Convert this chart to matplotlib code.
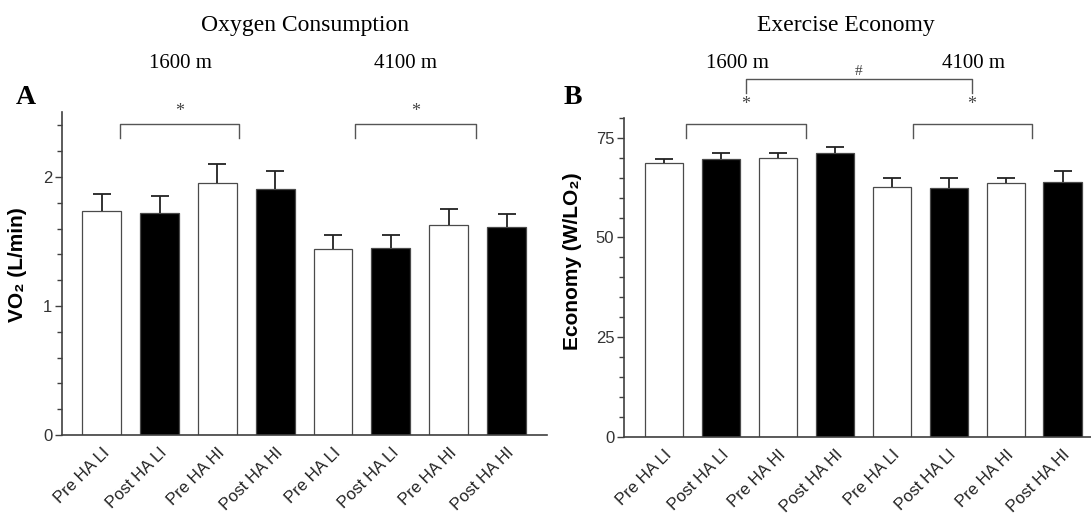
import numpy as np
import matplotlib
matplotlib.use("Agg")
import matplotlib.pyplot as plt
from matplotlib.ticker import MultipleLocator
from matplotlib.transforms import ScaledTranslation

plt.rcParams['font.family'] = ['Liberation Sans', 'DejaVu Sans']

# data
conditions = ['Pre HA LI', 'Post HA LI', 'Pre HA HI', 'Post HA HI',
              'Pre HA LI', 'Post HA LI', 'Pre HA HI', 'Post HA HI']
vo2 = [1.74, 1.72, 1.95, 1.91, 1.44, 1.45, 1.63, 1.61]
vo2_err = [0.13, 0.13, 0.15, 0.14, 0.11, 0.10, 0.12, 0.10]
econ = [68.6, 69.6, 69.9, 71.2, 62.6, 62.3, 63.6, 63.9]
econ_err = [1.0, 1.5, 1.2, 1.5, 2.4, 2.7, 1.4, 2.8]
fills = ['white', 'black'] * 4

serif = ['Liberation Serif', 'DejaVu Serif']
dark = '#404040'

fig = plt.figure(figsize=(10.91, 5.15), dpi=100)
axA = fig.add_axes([0.0568, 0.1553, 0.4446, 0.6263])
axB = fig.add_axes([0.5720, 0.1515, 0.4280, 0.6198])


def draw(ax, means, errs, ylim, xlim, major, minor, ylabel, label_xy):
    x = np.arange(len(means))
    ax.bar(x, means, width=0.67, color=fills, edgecolor='#4a4a4a',
           linewidth=0.9, zorder=2)
    eb = ax.errorbar(x, means, yerr=[np.zeros(len(errs)), errs], fmt='none',
                     ecolor='#222222', elinewidth=1.3, capsize=6.5,
                     capthick=1.3, zorder=3)
    eb[1][0].set_visible(False)
    ax.set_xlim(*xlim)
    ax.set_ylim(*ylim)
    ax.yaxis.set_major_locator(MultipleLocator(major))
    ax.yaxis.set_minor_locator(MultipleLocator(minor))
    ax.set_xticks(x)
    ax.set_xticklabels(conditions, rotation=45, ha='right',
                       rotation_mode='anchor', fontsize=12, color='#222222')
    shift = ScaledTranslation(-5 / 100, 0, fig.dpi_scale_trans)
    for lab in ax.get_xticklabels():
        lab.set_transform(lab.get_transform() + shift)
    ax.tick_params(axis='x', length=0, pad=7)
    ax.tick_params(axis='y', which='major', length=5, width=1.0,
                   color=dark, labelsize=12, labelcolor='#333333', pad=2)
    ax.tick_params(axis='y', which='minor', length=3.5, width=1.0, color=dark)
    for s in ['top', 'right']:
        ax.spines[s].set_visible(False)
    for s in ['left', 'bottom']:
        ax.spines[s].set_color(dark)
        ax.spines[s].set_linewidth(1.2)
    ax.set_ylabel(ylabel, fontsize=15, fontweight='bold')
    ax.yaxis.set_label_coords(*label_xy)


draw(axA, vo2, vo2_err, (0, 2.5), (-0.687, 7.70), 1, 0.2,
     'VO₂ (L/min)', (-0.072, 0.527))
draw(axB, econ, econ_err, (0, 80), (-0.70, 7.50), 25, 5,
     'Economy (W/LO₂)', (-0.090, 0.55))


def bracket(ax, x0, x1, ytop, ybot, mark=None, ymark=None, size=13):
    ax.plot([x0, x0, x1, x1], [ybot, ytop, ytop, ybot], color='#555555',
            lw=1.0, clip_on=False, zorder=4)
    if mark:
        ax.text((x0 + x1) / 2, ymark, mark, ha='center', va='center',
                fontsize=size, family=serif, color='#444444')


# significance brackets
bracket(axA, 0.32, 2.38, 2.41, 2.30, '*', 2.51)
bracket(axA, 4.38, 6.47, 2.41, 2.30, '*', 2.51)
bracket(axB, 0.39, 2.50, 78.4, 74.9)
bracket(axB, 4.37, 6.47, 78.4, 74.9)
bracket(axB, 1.44, 5.41, 89.6, 86.1, '#', 91.6, size=11)
for xs in [1.44, 5.41]:
    axB.text(xs, 83.3, '*', ha='center', va='center', fontsize=13,
             family=serif, color='#444444')

# titles and headers
fig.text(0.2796, 0.951, 'Oxygen Consumption', ha='center', va='center',
         fontsize=17, family=serif)
fig.text(0.775, 0.951, 'Exercise Economy', ha='center', va='center',
         fontsize=17, family=serif)
for xf, t in [(0.165, '1600 m'), (0.372, '4100 m'),
              (0.676, '1600 m'), (0.892, '4100 m')]:
    fig.text(xf, 0.876, t, ha='center', va='center', fontsize=15,
             family=serif)
fig.text(0.0238, 0.810, 'A', ha='center', va='center', fontsize=20,
         fontweight='bold', family=serif)
fig.text(0.525, 0.810, 'B', ha='center', va='center', fontsize=20,
         fontweight='bold', family=serif)

fig.savefig('out.png', dpi=100, facecolor='white')
